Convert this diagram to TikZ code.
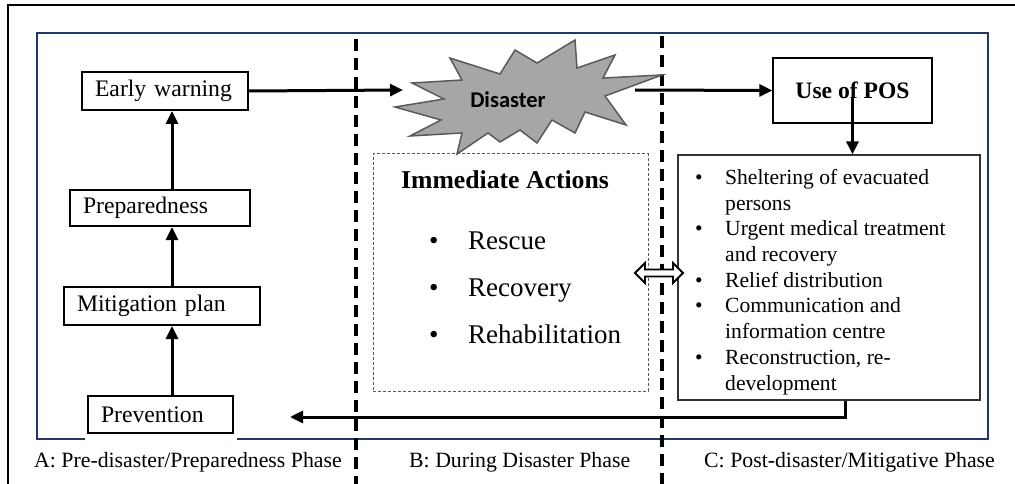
\documentclass[tikz,border=0pt]{standalone}
\usepackage{fontspec}
\setmainfont{Liberation Serif}
\newfontfamily\calibri{Carlito}
\usetikzlibrary{arrows.meta}
\definecolor{navy}{RGB}{31,56,100}
\definecolor{burst}{RGB}{166,166,166}
\definecolor{burstline}{RGB}{90,90,90}
\tikzset{
  box/.style={draw, line width=2pt, fill=white, inner xsep=13pt, inner ysep=0pt, align=left,
    font=\fontsize{23.7}{28}\selectfont},
  arr/.style={line width=3pt, -{Triangle[length=13pt,width=12pt]}},
  phase/.style={line width=3.2pt, dash pattern=on 12pt off 7pt},
  lbl/.style={anchor=west, inner sep=0pt, font=\fontsize{21.8}{26}\selectfont},
}
\begin{document}
\begin{tikzpicture}[x=1pt,y=-1pt]
\useasboundingbox (0,0) rectangle (1015,484);
% outer frame
\draw[line width=1.6pt] (8,520) -- (8,5) -- (1030,5);
% blue frame with gap
\draw[navy, line width=1.6pt] (85,439) -- (37,439) -- (37,33) -- (988,33) -- (988,439) -- (237,439);
% phase separators
\draw[phase] (356,39) -- (356,490);
\draw[phase] (662,36) -- (662,490);
% immediate actions box
\node[draw=gray!70!black, dash pattern=on 3pt off 2pt, line width=1pt, minimum width=275pt, minimum height=237pt, inner sep=0pt] (ia) at (510.5,272.5) {};
\node[font=\bfseries\fontsize{25.7}{30}\selectfont, inner sep=0pt] (iat) at (505,180) {Immediate Actions};
\node[anchor=base west, inner sep=0pt, align=left, font=\fontsize{27}{47}\selectfont] (iai) at (429,343)
 {\makebox[39pt][l]{\textbullet}Rescue\\ \makebox[39pt][l]{\textbullet}Recovery\\ \makebox[39pt][l]{\textbullet}Rehabilitation};
% left chain
\node[box, text width=140pt, minimum height=38pt] (ew) at (165,91) {Early warning};
\node[box, text width=154pt, minimum height=36pt] (prep) at (160,208) {Preparedness};
\node[box, text width=170pt, minimum height=38pt] (mit) at (162,306) {Mitigation plan};
\node[box, text width=119pt, minimum height=37pt] (prev) at (160.5,414.5) {Prevention};
\coordinate (ax) at (172,0);
\draw[arr] (prev.north -| ax) -- (mit.south -| ax);
\draw[arr] (mit.north -| ax) -- (prep.south -| ax);
\draw[arr] (prep.north -| ax) -- (ew.south -| ax);
% disaster burst
\filldraw[fill=burst, draw=burstline, line width=1.5pt]
 (412,83) -- (462,80) -- (450,58) -- (500,74) -- (515,50) -- (537,63) -- (575,40) -- (577,68)
 -- (615,55) -- (603,78) -- (662,75) -- (605,96) -- (626,125) -- (585,112) -- (575,133)
 -- (552,120) -- (537,143) -- (520,130) -- (500,142) -- (488,133) -- (457,154) -- (462,133)
 -- (410,136) -- (441,120) -- (395,107) -- (444,99) -- cycle;
\node[font=\calibri\bfseries\fontsize{22.5}{26}\selectfont, inner sep=0pt] (dis) at (508,100) {Disaster};
\coordinate (dIn) at (403,90);
\coordinate (dOut) at (635,90);
\draw[arr] (ew.east) -- (dIn);
% POS
\node[draw, line width=1.2pt, fill=white, minimum width=159pt, minimum height=65pt, inner sep=0pt,
  font=\bfseries\fontsize{23.6}{28}\selectfont] (pos) at (852.5,90.5) {Use of POS};
\draw[arr] (dOut) -- (pos.west);
% list box
\node[draw=black!80, line width=1.2pt, fill=white, minimum width=302pt, minimum height=245pt, inner sep=0pt] (list) at (829,277.5) {};
\draw[arr] ([yshift=-8pt]pos.center) -- (pos.center |- list.north);
\node[anchor=base west, inner sep=0pt, align=left, font=\fontsize{21.6}{25.7}\selectfont] (listtxt) at (695,390)
 {\makebox[30pt][l]{\textbullet}Sheltering of evacuated\\
  \hspace*{30pt}persons\\
  \makebox[30pt][l]{\textbullet}Urgent medical treatment\\
  \hspace*{30pt}and recovery\\
  \makebox[30pt][l]{\textbullet}Relief distribution\\
  \makebox[30pt][l]{\textbullet}Communication and\\
  \hspace*{30pt}information centre\\
  \makebox[30pt][l]{\textbullet}Reconstruction, re-\\
  \hspace*{30pt}development};
% feedback
\coordinate (fbx) at (845,0);
\coordinate (fbEnd) at (290,417);
\draw[arr] (list.south -| fbx) |- (fbEnd);
% double arrow
\filldraw[fill=white, draw=black, line width=1.8pt]
 (635,273) -- (645,263) -- (645,269.5) -- (673,269.5) -- (673,263) -- (683,273)
 -- (673,283) -- (673,276.5) -- (645,276.5) -- (645,283) -- cycle;
% phase labels
\node[lbl] (la) at (34,462) {A: Pre-disaster/Preparedness Phase};
\node[lbl] (lb) at (409,462) {B: During Disaster Phase};
\node[lbl] (lc) at (704,462) {C: Post-disaster/Mitigative Phase};
\end{tikzpicture}
\end{document}
